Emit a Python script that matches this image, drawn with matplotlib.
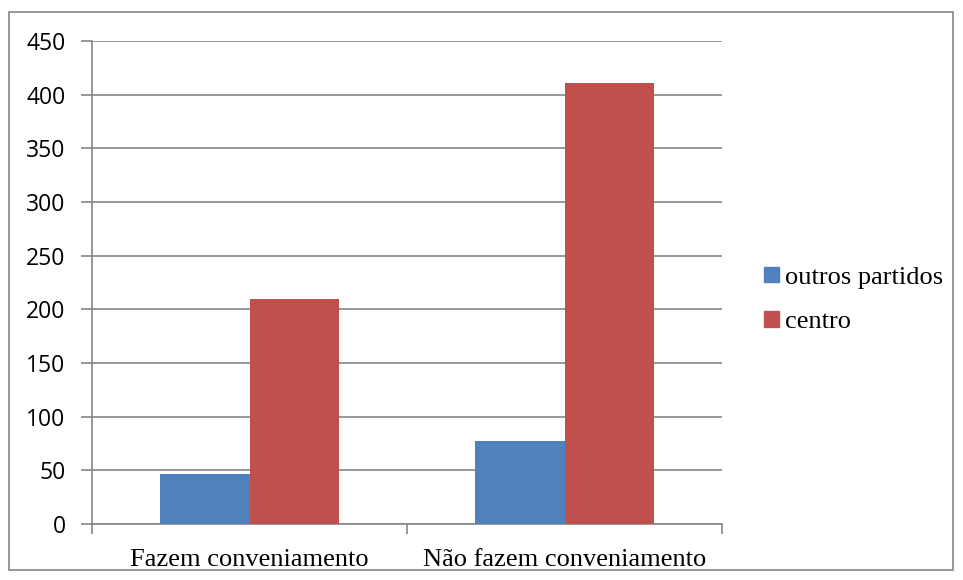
import matplotlib
matplotlib.use("Agg")
import matplotlib.pyplot as plt
from matplotlib.patches import Rectangle
import numpy as np

categories = ["Fazem conveniamento", "Não fazem conveniamento"]
series_names = ["outros partidos", "centro"]
outros_partidos = [47, 77]
centro = [210, 411]
colors = ["#4f81bd", "#c0504d"]
grid_color = "#868686"

fig = plt.figure(figsize=(9.63, 5.80), dpi=100)
fig.patch.set_facecolor("white")

# outer chart frame
fig.add_artist(Rectangle((9 / 963, 10 / 580), 944 / 963, 558 / 580,
                         transform=fig.transFigure, fill=False,
                         edgecolor=grid_color, linewidth=1.2))

ax = fig.add_axes([92 / 963, 56 / 580, 630 / 963, 483 / 580])

x = np.arange(len(categories))
width = 0.284
ax.bar(x - width / 2, outros_partidos, width, color=colors[0], label=series_names[0], zorder=3)
ax.bar(x + width / 2, centro, width, color=colors[1], label=series_names[1], zorder=3)

ax.set_xlim(-0.5, 1.5)
ax.set_ylim(0, 450)
ax.set_yticks(np.arange(0, 451, 50))
ax.yaxis.grid(True, color=grid_color, linewidth=1.2, zorder=0)
ax.set_axisbelow(True)

for side in ["top", "right"]:
    ax.spines[side].set_visible(False)
for side in ["left", "bottom"]:
    ax.spines[side].set_color(grid_color)
    ax.spines[side].set_linewidth(1.2)

ax.tick_params(axis="y", direction="out", length=8, color=grid_color, width=1.2,
               labelsize=16.5, pad=11)
for lbl in ax.get_yticklabels():
    lbl.set_fontfamily("Open Sans")

# category ticks sit on the boundaries between groups
ax.set_xticks([-0.5, 0.5, 1.5])
ax.set_xticklabels([])
ax.tick_params(axis="x", direction="out", length=7, color=grid_color, width=1.2)
ax.set_xticks(x, minor=True)
ax.set_xticklabels(categories, minor=True, fontfamily="Liberation Serif", fontsize=19)
ax.tick_params(axis="x", which="minor", length=0, pad=18)

handles = [Rectangle((0, 0), 1, 1, color=c) for c in colors]
fig.legend(handles, series_names, loc="center left",
           bbox_to_anchor=(764 / 963, 1 - 300 / 580),
           frameon=False, borderpad=0, borderaxespad=0,
           handlelength=0.55, handleheight=0.55,
           handletextpad=0.25, labelspacing=0.85,
           prop={"family": "Liberation Serif", "size": 19})

fig.savefig("out.png", dpi=100, facecolor="white")
